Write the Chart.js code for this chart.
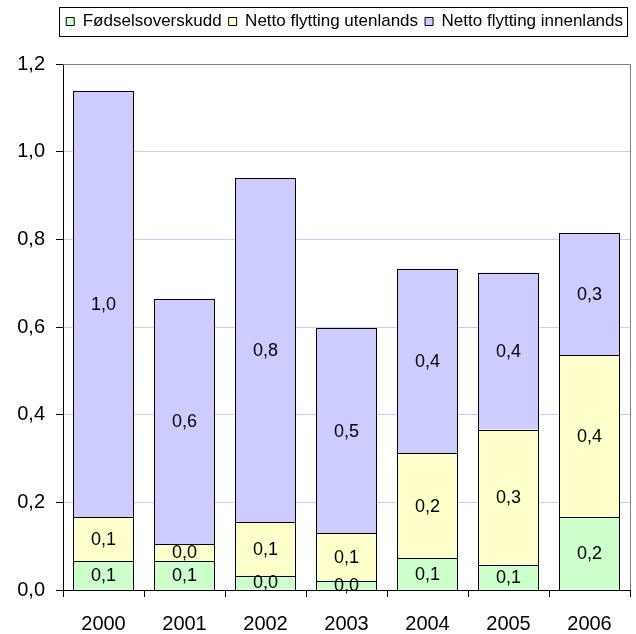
<!DOCTYPE html>
<html lang="no">
<head>
  <meta charset="UTF-8" />
  <title>Befolkningsvekst</title>
  <script src="https://cdn.jsdelivr.net/npm/chart.js@4.4.0/dist/chart.umd.min.js"></script>
  <style>
    html, body {
      margin: 0;
      padding: 0;
      background: #ffffff;
    }

    .chart-box {
      width: 636px;
      height: 634px;
    }
  </style>
</head>
<body>

  <div class="chart-box">
    <canvas id="growthChart" width="636" height="634"></canvas>
  </div>

  <script>
    const years = ['2000', '2001', '2002', '2003', '2004', '2005', '2006'];
    const birthSurplus = [0.066, 0.066, 0.033, 0.021, 0.072, 0.057, 0.166];
    const netAbroad = [0.100, 0.039, 0.121, 0.108, 0.240, 0.309, 0.370];
    const netDomestic = [0.972, 0.559, 0.785, 0.468, 0.421, 0.358, 0.278];
    const seriesNames = ['Fødselsoverskudd', 'Netto flytting utenlands', 'Netto flytting innenlands'];
    const yTicks = [0, 0.2, 0.4, 0.6, 0.8, 1.0, 1.2];

    const fontFamily = "'Liberation Sans', Arial, sans-serif";
    const commaNum = v => Number(v).toFixed(1).replace('.', ',');

    // crisp 1px black outline round every bar piece (snapped to whole pixels)
    const barOutlines = {
      id: 'barOutlines',
      afterDatasetsDraw(chart) {
        const ctx = chart.ctx;
        ctx.save();
        ctx.strokeStyle = '#000';
        ctx.lineWidth = 1;
        chart.data.datasets.forEach((ds, i) => {
          chart.getDatasetMeta(i).data.forEach(bar => {
            const p = bar.getProps(['x', 'y', 'base', 'width'], true);
            const l = Math.round(p.x - p.width / 2);
            const r = Math.round(p.x + p.width / 2) - 1;
            const t = Math.round(p.y);
            const b = Math.round(p.base);
            ctx.strokeRect(l + 0.5, t + 0.5, r - l, b - t);
          });
        });
        ctx.restore();
      }
    };

    // numbers in the middle of each bar piece
    const segmentLabels = {
      id: 'segmentLabels',
      afterDatasetsDraw(chart) {
        const ctx = chart.ctx;
        ctx.save();
        ctx.font = '18px ' + fontFamily;
        ctx.fillStyle = '#000';
        ctx.textAlign = 'center';
        ctx.textBaseline = 'middle';
        chart.data.datasets.forEach((ds, i) => {
          chart.getDatasetMeta(i).data.forEach((bar, j) => {
            const p = bar.getProps(['x', 'y', 'base'], true);
            ctx.fillText(commaNum(ds.data[j]), p.x, (p.y + p.base) / 2 + 1);
          });
        });
        ctx.restore();
      }
    };

    // grey frame on top/right of plot, black frame round the legend
    const frames = {
      id: 'frames',
      beforeInit(chart) {
        const fit = chart.legend.fit;
        chart.legend.fit = function () {
          fit.bind(chart.legend)();
          this.height += 24;
        };
      },
      afterDraw(chart) {
        const ctx = chart.ctx;
        const a = chart.chartArea;
        ctx.save();
        ctx.strokeStyle = '#808080';
        ctx.lineWidth = 1;
        ctx.beginPath();
        ctx.moveTo(a.left, Math.round(a.top) + 0.5);
        ctx.lineTo(Math.round(a.right) + 0.5, Math.round(a.top) + 0.5);
        ctx.lineTo(Math.round(a.right) + 0.5, a.bottom);
        ctx.stroke();

        const hb = chart.legend.legendHitBoxes;
        if (hb && hb.length) {
          const last = hb[hb.length - 1];
          const x0 = Math.round(hb[0].left - 7) + 0.5;
          const x1 = Math.round(last.left + last.width + 4) + 0.5;
          const yc = hb[0].top + hb[0].height / 2;
          const y0 = Math.round(yc - 15) + 0.5;
          const y1 = Math.round(yc + 14) + 0.5;
          ctx.strokeStyle = '#000';
          ctx.strokeRect(x0, y0, x1 - x0, y1 - y0);
        }
        ctx.restore();
      }
    };

    const ctx = document.getElementById('growthChart').getContext('2d');

    new Chart(ctx, {
      type: 'bar',
      data: {
        labels: years,
        datasets: [
          { label: seriesNames[0], data: birthSurplus, backgroundColor: '#ccffcc' },
          { label: seriesNames[1], data: netAbroad, backgroundColor: '#ffffcc' },
          { label: seriesNames[2], data: netDomestic, backgroundColor: '#ccccff' }
        ].map(d => Object.assign(d, {
          borderWidth: 0,
          barPercentage: 61 / 81,
          categoryPercentage: 1.0
        }))
      },
      options: {
        responsive: false,
        animation: false,
        layout: { padding: { top: 6, left: 0, right: 6, bottom: 0 } },
        plugins: {
          legend: {
            position: 'top',
            align: 'end',
            labels: {
              color: '#000',
              boxWidth: 8,
              boxHeight: 8,
              padding: 7,
              font: { family: fontFamily, size: 17 },
              generateLabels(chart) {
                return Chart.defaults.plugins.legend.labels.generateLabels(chart)
                  .map(item => Object.assign(item, { strokeStyle: '#000', lineWidth: 1 }));
              }
            }
          },
          tooltip: { enabled: false }
        },
        scales: {
          x: {
            stacked: true,
            afterFit(axis) { axis.height = 44; },
            grid: {
              offset: true,
              drawOnChartArea: false,
              tickLength: 7,
              tickColor: '#000'
            },
            border: { color: '#000', width: 1 },
            ticks: {
              color: '#000',
              padding: 17,
              font: { family: fontFamily, size: 20, lineHeight: 1 }
            }
          },
          y: {
            stacked: true,
            min: 0,
            max: 1.2,
            afterFit(axis) { axis.width = 63; },
            afterBuildTicks(axis) {
              axis.ticks = yTicks.map(v => ({ value: v }));
            },
            grid: {
              color: '#ccccff',
              tickLength: 7,
              tickColor: '#000'
            },
            border: { color: '#000', width: 1 },
            ticks: {
              color: '#000',
              padding: 11,
              font: { family: fontFamily, size: 20 },
              callback: v => commaNum(v)
            }
          }
        }
      },
      plugins: [barOutlines, segmentLabels, frames]
    });
  </script>

</body>
</html>
